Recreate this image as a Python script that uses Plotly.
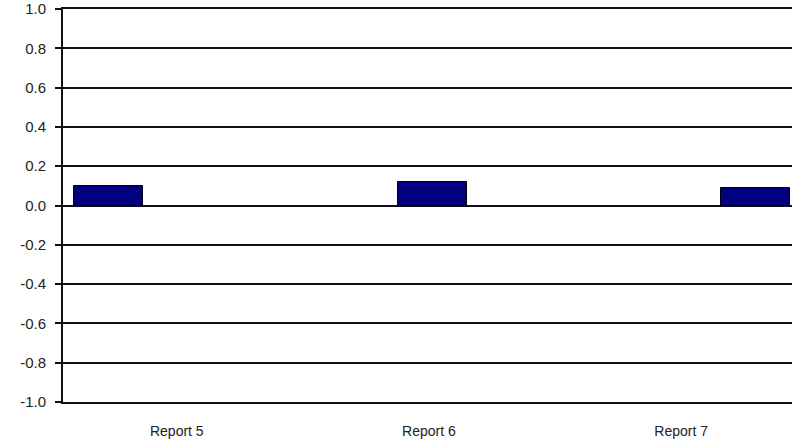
import plotly.graph_objects as go

categories = ["Report 5", "Report 6", "Report 7"]
values = [0.10, 0.12, 0.09]
y_ticks = [-1.0, -0.8, -0.6, -0.4, -0.2, 0.0, 0.2, 0.4, 0.6, 0.8, 1.0]
y_tick_text = ["%.1f" % v if v >= 0 else "-%.1f" % abs(v) for v in y_ticks]

bar_x = list(range(len(categories)))
label_x = [0.21, 0.99, 1.77]

fig = go.Figure()
fig.add_trace(go.Bar(
    x=bar_x, y=values, width=0.213,
    marker=dict(color="#000080", line=dict(color="#000000", width=1)),
    showlegend=False,
))

fig.update_layout(
    width=792, height=445,
    margin=dict(l=63, r=0, t=9, b=43, autoexpand=False),
    paper_bgcolor="white", plot_bgcolor="white",
    font=dict(family="Liberation Sans, Arial, sans-serif", color="#222222", size=13),
    xaxis=dict(
        range=[-0.142, 2.113],
        tickmode="array", tickvals=label_x, ticktext=categories,
        showgrid=False, zeroline=False,
        showline=True, mirror=True, linecolor="#111111", linewidth=2,
        ticks="", ticklabelstandoff=15,
        tickfont=dict(size=14),
    ),
    yaxis=dict(
        range=[-1.0, 1.0],
        tickmode="array", tickvals=y_ticks, ticktext=y_tick_text,
        showgrid=True, gridcolor="#111111", gridwidth=2,
        zeroline=True, zerolinecolor="#111111", zerolinewidth=2,
        showline=True, linecolor="#111111", linewidth=2,
        ticks="outside", ticklen=6, tickcolor="#111111", tickwidth=2,
        ticklabelstandoff=6,
        tickfont=dict(size=15),
    ),
    bargap=0,
)

fig.write_html(
    "out.html",
    config={"displayModeBar": False},
    post_script="document.body.style.margin='0';document.body.style.overflow='hidden';",
)
